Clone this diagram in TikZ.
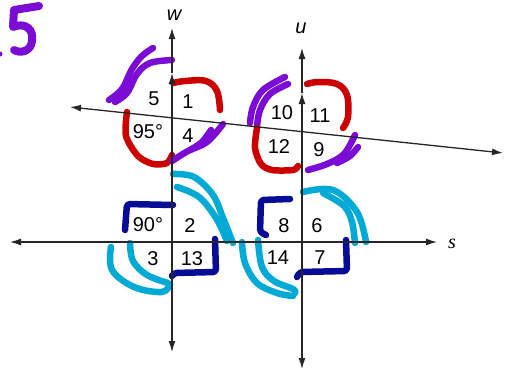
\documentclass[tikz,border=0pt]{standalone}
\usepackage{fontspec}
\setmainfont{Liberation Sans}
\newfontfamily\serifit{Liberation Serif}
\usepackage{xcolor}
\usetikzlibrary{arrows.meta}

\definecolor{inkpurple}{RGB}{122,12,214}
\definecolor{inkred}{RGB}{204,0,0}
\definecolor{inknavy}{RGB}{8,12,150}
\definecolor{inkcyan}{RGB}{0,170,212}

\begin{document}
\begin{tikzpicture}[x=1pt,y=-1pt,
  axis/.style={line width=1.3pt,black!85},
  tip/.style={-{Latex[length=11pt,width=7pt]}},
  tips/.style={{Latex[length=11pt,width=7pt]}-{Latex[length=11pt,width=7pt]}},
  num/.style={font=\fontsize{20}{22}\selectfont,inner sep=0pt},
  ink/.style={line width=6.5pt,line cap=round,line join=round},
  pur/.style={ink,inkpurple},
  red/.style={ink,inkred},
  navy/.style={ink,inknavy},
  cyan/.style={ink,inkcyan}]
\useasboundingbox (0,0) rectangle (507,370);
\fill[white] (0,0) rectangle (507,370);

% line ends
\coordinate (wtop) at (172,28);
\coordinate (wmid) at (172,73);
\coordinate (wbot) at (172,352);
\coordinate (utop) at (302,48);
\coordinate (umid) at (302,93);
\coordinate (ubot) at (302,369);
\coordinate (sl) at (10,242);
\coordinate (sr) at (437,242);
\coordinate (tl) at (70,107);
\coordinate (tr) at (503,153);

% hand marks (drawn under the lines)
\draw[pur,line width=8pt] (39,6) -- (14,10) -- (13,27) .. controls (25,22) and (34,29) .. (32,41)
  .. controls (31,51) and (21,54) .. (14,50);
\fill[inkpurple] (0,54) circle (2.5pt);

\draw[pur] plot[smooth,tension=0.6] coordinates {(109,100) (122,89) (132,69) (142,56) (153,48)};
\draw[pur] plot[smooth,tension=0.6] coordinates {(115,102) (127,93) (137,74) (150,63) (172,60)};
\draw[red] plot[smooth,tension=0.6] coordinates {(173,83) (185,81) (206,81) (217,91) (220,110)};
\draw[red] plot[smooth,tension=0.5] coordinates {(127,112) (126,136) (138,156) (153,164) (167,163) (172,155)};
\draw[pur] plot[smooth,tension=0.6] coordinates {(172,161) (188,151) (207,142) (223,124)};
\draw[pur] plot[smooth,tension=0.6] coordinates {(190,150) (202,142) (211,130)};

\draw[pur] plot[smooth,tension=0.6] coordinates {(250,123) (253,107) (263,90) (285,77)};
\draw[pur] plot[smooth,tension=0.6] coordinates {(257,127) (260,110) (270,94) (288,84)};
\draw[red] plot[smooth,tension=0.6] coordinates {(307,84) (318,82) (337,84) (347,95) (348,117) (343,128)};
\draw[red] plot[smooth,tension=0.5] coordinates {(257,128) (255,148) (261,164) (272,170) (293,170) (298,166)};
\draw[pur] plot[smooth,tension=0.6] coordinates {(308,170) (327,164) (344,154) (355,135)};
\draw[pur] plot[smooth,tension=0.6] coordinates {(337,163) (350,156) (358,147)};

\draw[navy,rounded corners=3pt] (173,205) -- (127,204) -- (125,230);
\draw[navy,rounded corners=3pt] (215,239) -- (216,272) -- (174,273) -- (172,276);
\draw[cyan] plot[smooth,tension=0.6] coordinates {(111,247) (112,270) (134,287) (162,292) (170,284)};
\draw[cyan] plot[smooth,tension=0.6] coordinates {(130,243) (133,261) (147,275) (168,283)};
\draw[cyan] plot[smooth,tension=0.6] coordinates {(173,174) (194,177) (213,195) (223,218) (233,243)};
\draw[cyan] plot[smooth,tension=0.6] coordinates {(177,187) (199,197) (216,218) (227,241)};

\draw[navy,rounded corners=3pt] (290,199) -- (261,200) -- (260,232) -- (266,235);
\draw[navy,rounded corners=3pt] (346,240) -- (347,271) -- (300,272) -- (297,277);
\draw[cyan] plot[smooth,tension=0.6] coordinates {(303,192) (333,190) (357,212) (366,242)};
\draw[cyan] plot[smooth,tension=0.6] coordinates {(323,193) (344,206) (352,222) (355,243)};
\draw[cyan] plot[smooth,tension=0.6] coordinates {(242,242) (245,263) (257,283) (277,293) (293,296)};
\draw[cyan] plot[smooth,tension=0.6] coordinates {(258,240) (262,267) (274,281) (293,289) (295,293)};

% lines
\draw[axis,tips] (wbot) -- (wmid);
\draw[axis,tip] (wmid) -- (wtop);
\draw[axis,tips] (ubot) -- (umid);
\draw[axis,tip] (umid) -- (utop);
\draw[axis,tips] (sl) -- (sr);
\draw[axis,tips] (tl) -- (tr);

% line names
\node[num] (wlab) at (174,15) {\itshape w};
\node[num] (ulab) at (301,28) {\itshape u};
\node[num] (slab) at (452,244) {\serifit\itshape s};

% angle numbers
\node[num] (a5) at (154,99) {5};
\node[num] (a1) at (188,102) {1};
\node[num] (a95) at (148,132) {95°};
\node[num] (a4) at (188,136) {4};
\node[num] (a10) at (282,113) {10};
\node[num] (a11) at (320,116) {11};
\node[num] (a12) at (279,147) {12};
\node[num] (a9) at (319,150) {9};
\node[num] (a90) at (148,225) {90°};
\node[num] (a2) at (190,226) {2};
\node[num] (a3) at (153,259) {3};
\node[num] (a13) at (192,259) {13};
\node[num] (a8) at (284,226) {8};
\node[num] (a6) at (317,226) {6};
\node[num] (a14) at (278,258) {14};
\node[num] (a7) at (320,258) {7};
\end{tikzpicture}
\end{document}
